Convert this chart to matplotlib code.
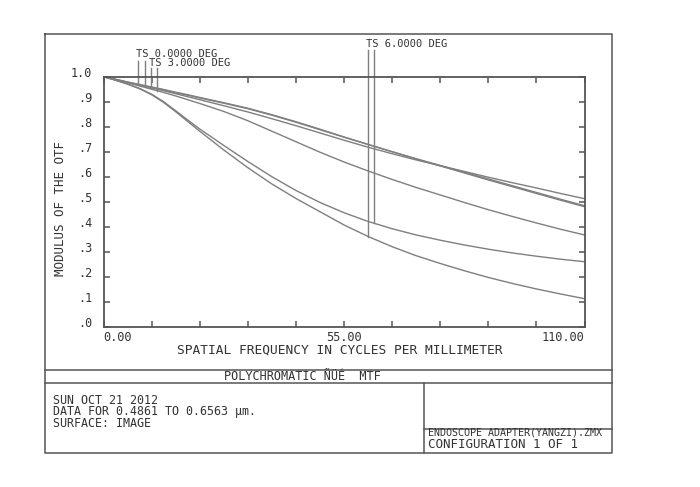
import numpy as np
import matplotlib
matplotlib.use('Agg')
import matplotlib.pyplot as plt
from matplotlib.transforms import ScaledTranslation

plt.rcParams['font.family'] = 'DejaVu Sans Mono'

# spatial frequency (cycles/mm)
freq = [0, 2.75, 5.5, 8.25, 11, 13.75, 16.5, 19.25, 22, 27.5, 33, 38.5, 44,
        49.5, 55, 60.5, 66, 71.5, 77, 82.5, 88, 93.5, 99, 104.5, 110]

# MTF readings per field, tangential / sagittal
mtf_0_t = [1.0, 0.989, 0.978, 0.967, 0.957, 0.947, 0.936, 0.926, 0.915, 0.894, 0.872, 0.846,
           0.818, 0.788, 0.758, 0.729, 0.700, 0.672, 0.645, 0.618, 0.591, 0.564, 0.537, 0.510, 0.484]
mtf_0_s = [1.0, 0.990, 0.979, 0.969, 0.959, 0.949, 0.938, 0.928, 0.917, 0.896, 0.874, 0.848,
           0.820, 0.790, 0.759, 0.729, 0.700, 0.671, 0.643, 0.615, 0.587, 0.560, 0.533, 0.506, 0.480]
mtf_3_t = [1.0, 0.989, 0.977, 0.966, 0.955, 0.944, 0.932, 0.920, 0.908, 0.884, 0.859, 0.832,
           0.804, 0.775, 0.746, 0.718, 0.692, 0.667, 0.644, 0.621, 0.598, 0.576, 0.555, 0.533, 0.512]
mtf_3_s = [1.0, 0.988, 0.976, 0.963, 0.950, 0.937, 0.923, 0.908, 0.893, 0.861, 0.824, 0.782,
           0.740, 0.698, 0.659, 0.623, 0.589, 0.557, 0.527, 0.497, 0.468, 0.441, 0.415, 0.390, 0.367]
mtf_6_t = [1.0, 0.986, 0.971, 0.953, 0.930, 0.900, 0.864, 0.827, 0.791, 0.725, 0.661, 0.600,
           0.545, 0.497, 0.456, 0.421, 0.392, 0.367, 0.346, 0.327, 0.310, 0.295, 0.282, 0.270, 0.260]
mtf_6_s = [1.0, 0.986, 0.970, 0.952, 0.928, 0.897, 0.860, 0.821, 0.782, 0.707, 0.636, 0.571,
           0.513, 0.460, 0.407, 0.361, 0.320, 0.284, 0.253, 0.224, 0.197, 0.173, 0.151, 0.131, 0.112]

curves = [mtf_0_t, mtf_0_s, mtf_3_t, mtf_3_s, mtf_6_t, mtf_6_s]

# leader lines: frequency where each curve is tagged, and the top of the line
leader_freq = [8.0, 9.45, 10.9, 12.2, 61.9, 60.6]
leader_top = [1.064, 1.064, 1.036, 1.036, 1.105, 1.105]

field_labels = ['TS 0.0000 DEG', 'TS 3.0000 DEG', 'TS 6.0000 DEG']
field_label_pos = [(7.5, 1.092), (10.4, 1.056), (60.0, 1.132)]

xticks = np.arange(0, 111, 11)
xtick_labels = ['0.00', '', '', '', '', '55.00', '', '', '', '', '110.00']
yticks = np.arange(0, 1.01, 0.1)
ytick_labels = ['.0', '.1', '.2', '.3', '.4', '.5', '.6', '.7', '.8', '.9', '1.0']

W, H = 700, 487
line_col = '#7f7f7f'
ax_col = '#555555'
txt_col = '#333333'

fig = plt.figure(figsize=(W / 100, H / 100), dpi=100)

# pixel-space overlay for frame and text blocks
frame = fig.add_axes([0, 0, 1, 1])
frame.set_xlim(0, W)
frame.set_ylim(H, 0)
frame.axis('off')

fr = dict(color=ax_col, lw=1.1)
frame.plot([45, 612, 612, 45, 45], [34, 34, 453, 453, 34], **fr)
frame.plot([45, 612], [370, 370], **fr)
frame.plot([45, 612], [383, 383], **fr)
frame.plot([423.5, 423.5], [383, 453], **fr)
frame.plot([423.5, 612], [428.5, 428.5], **fr)

frame.text(340, 350, 'SPATIAL FREQUENCY IN CYCLES PER MILLIMETER', ha='center', va='center',
           fontsize=9.3, color=txt_col)
frame.text(61, 208, 'MODULUS OF THE OTF', rotation=90, ha='center', va='center',
           fontsize=9.0, color=txt_col)
frame.text(302, 377, 'POLYCHROMATIC ÑÜÉ  MTF', ha='center', va='center',
           fontsize=8.6, color=txt_col)
frame.text(53, 412, 'SUN OCT 21 2012\nDATA FOR 0.4861 TO 0.6563 µm.\nSURFACE: IMAGE',
           ha='left', va='center', fontsize=8.4, linespacing=0.86, color=txt_col)
frame.text(428, 432.5, 'ENDOSCOPE ADAPTER(YANGZI).ZMX', ha='left', va='center', fontsize=7.2,
           color=txt_col)
frame.text(428, 444.5, 'CONFIGURATION 1 OF 1', ha='left', va='center', fontsize=9,
           color=txt_col)

# MTF plot
ax = fig.add_axes([103.5 / W, 1 - 326.7 / H, 481 / W, 250 / H])
ax.patch.set_alpha(0)
for c in curves:
    ax.plot(freq, c, color=line_col, lw=1.0)

for c, f, top in zip(curves, leader_freq, leader_top):
    ax.plot([f, f], [np.interp(f, freq, c), top], color=line_col, lw=1.0, clip_on=False)

for lab, (x, y) in zip(field_labels, field_label_pos):
    ax.text(x, y, lab, ha='left', va='center', fontsize=7.5, color=txt_col, clip_on=False)

ax.set_xlim(0, 110)
ax.set_ylim(0, 1.0)
ax.set_xticks(xticks)
ax.set_xticklabels(xtick_labels)
ax.set_yticks(yticks)
ax.set_yticklabels(ytick_labels)
ax.tick_params(direction='in', length=4, width=1.1, color=ax_col, top=True, right=True,
               labelsize=8.6, labelcolor=txt_col)
ax.tick_params(axis='x', pad=3)
ax.tick_params(axis='y', pad=8, labelsize=8.5)
for s in ax.spines.values():
    s.set_color(ax_col)
    s.set_linewidth(1.3)

xl = ax.get_xticklabels()
xl[0].set_ha('left')
xl[-1].set_ha('right')
shift = ScaledTranslation(0, 5 / 100, fig.dpi_scale_trans)
for t in ax.get_yticklabels():
    t.set_transform(t.get_transform() + shift)

fig.savefig('out.png', dpi=100)
